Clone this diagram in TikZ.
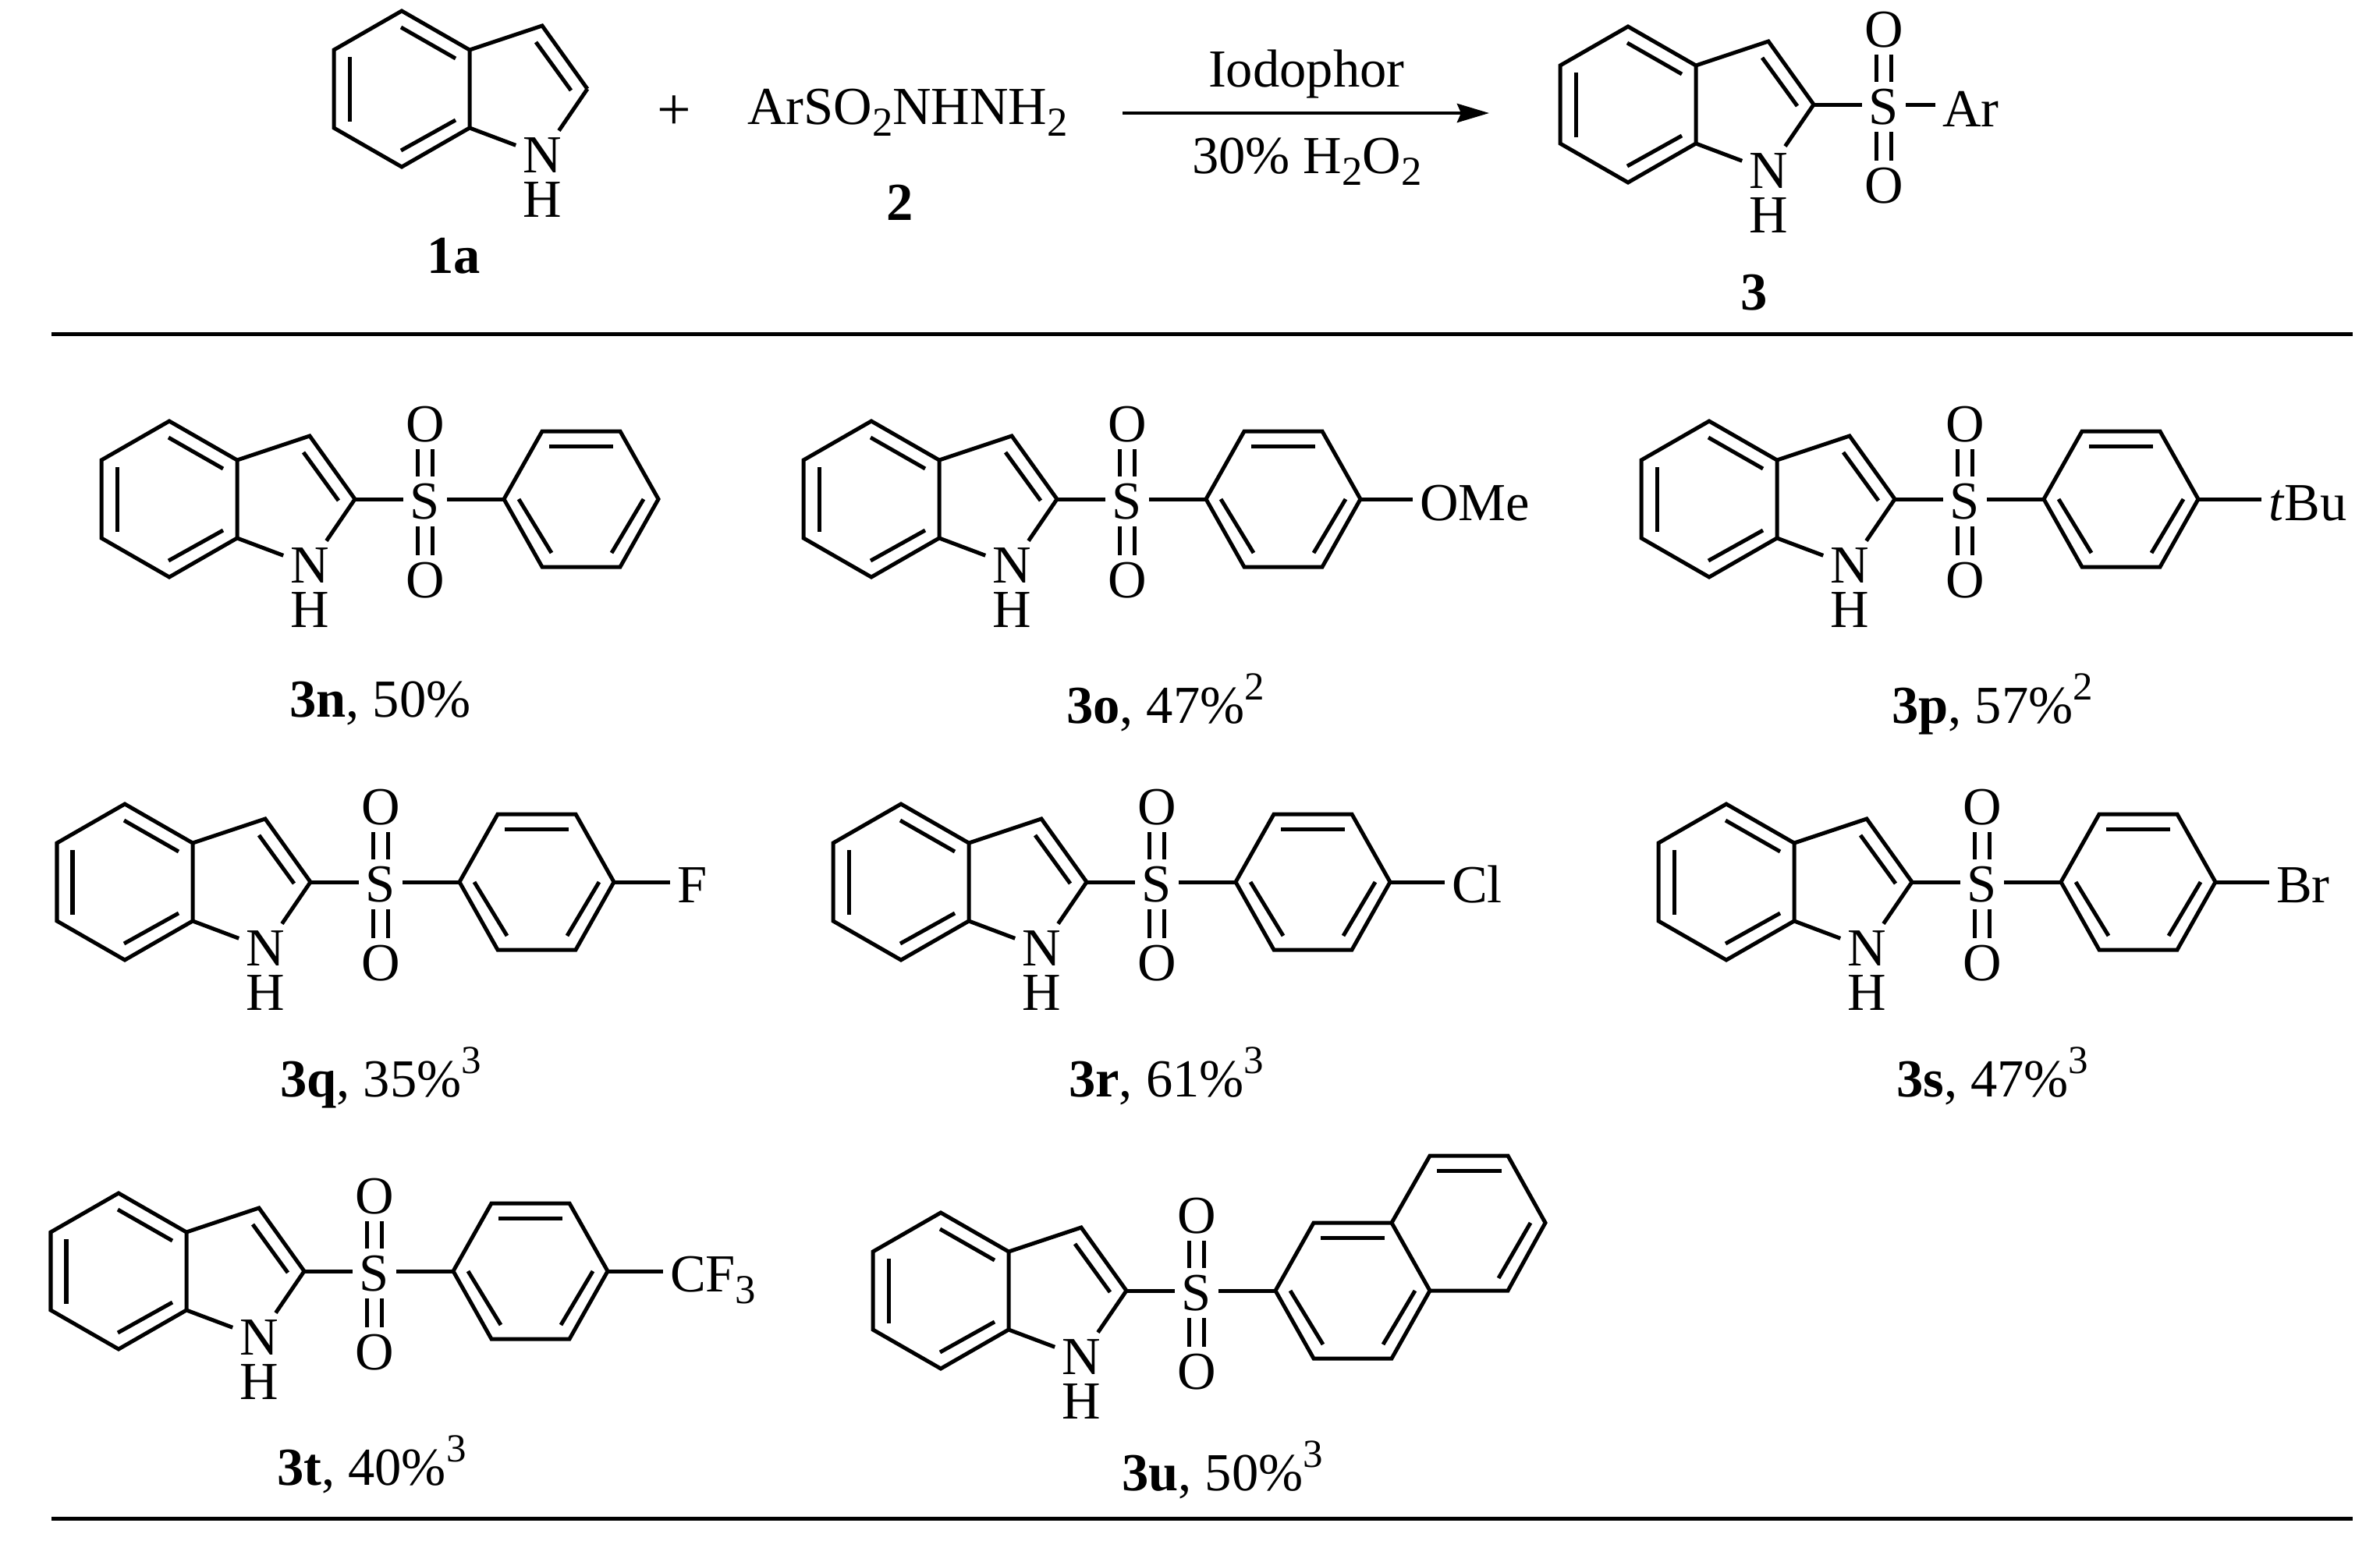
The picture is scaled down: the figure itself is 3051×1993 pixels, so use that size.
\documentclass[tikz,border=0pt]{standalone}
\usepackage{fontspec}
\setmainfont{Liberation Serif}
\usetikzlibrary{arrows.meta}
\tikzset{
  bond/.style={line width=0.05cm},
  atom/.style={inner sep=0pt,outer sep=0.09cm},
  txt/.style={inner sep=0pt,outer sep=0pt,anchor=base west},
  tablerule/.style={line width=0.05cm},
  rxnarrow/.style={line width=0.045cm,-{Stealth[length=0.41cm,width=0.24cm,inset=0.05cm]}}
}
\newcommand{\lowidx}[1]{\raisebox{-4.5pt}{\fontsize{15}{15}\selectfont #1}}
\newcommand{\upidx}[1]{\raisebox{8.5pt}{\fontsize{14.5}{15}\selectfont #1}}
% anillo de indol: nombre, x, y
\newcommand{\indole}[3]{
  \begin{scope}[shift={(#2,#3)}]
    \coordinate (#1cb) at (87,50);
    \coordinate (#1cc) at (238,0);
    \draw[bond] (0,-100) -- (87,-50) -- (87,50) -- (0,100) -- (-87,50) -- (-87,-50) -- cycle;
    \draw[bond] (87,-50) -- (180,-81) -- (238,0);
    \draw[bond] (-67,-41) -- (-67,42);
    \draw[bond] (-1,-79) -- (69,-39);
    \draw[bond] (-1,79) -- (69,40);
    \draw[bond] (172,-60) -- (217,2);
    \node[atom] (#1N) at (180,85) {N};
    \node[atom] (#1H) at (180,142) {H};
    \draw[bond] (#1cb) -- (#1N) -- (#1cc);
  \end{scope}
}
% grupo SO2 sobre el C2
\newcommand{\sulfonyl}[3]{
  \begin{scope}[shift={(#2,#3)}]
    \node[atom] (#1S) at (328,3) {S};
    \node[atom] (#1Ot) at (328,-96) {O};
    \node[atom] (#1Ob) at (328,104) {O};
    \draw[bond] (#1cc) -- (#1cc -| #1S.west);
    \foreach \dx in {-0.095,0.095} {
      \draw[bond] ([xshift=\dx cm]#1S.north) -- ([xshift=\dx cm]#1Ot.south);
      \draw[bond] ([xshift=\dx cm]#1S.south) -- ([xshift=\dx cm]#1Ob.north);
    }
  \end{scope}
}
% fenilo unido al S
\newcommand{\phring}[3]{
  \begin{scope}[shift={(#2+528,#3)}]
    \coordinate (#1ipso) at (-99,0);
    \coordinate (#1para) at (99,0);
    \draw[bond] (#1ipso) -- (-50,-87) -- (50,-87) -- (#1para) -- (50,87) -- (-50,87) -- cycle;
    \draw[bond] (-41,-68) -- (41,-68);
    \draw[bond] (-80,0) -- (-38,69);
    \draw[bond] (80,0) -- (39,69);
    \draw[bond] (#1S.east |- #1ipso) -- (#1ipso);
  \end{scope}
}
\newcommand{\sulfone}[3]{\indole{#1}{#2}{#3}\sulfonyl{#1}{#2}{#3}\phring{#1}{#2}{#3}}
\begin{document}
\begin{tikzpicture}[x=0.01cm,y=-0.01cm,every node/.style={font=\fontsize{19.5}{23}\selectfont}]
  \useasboundingbox (0,0) rectangle (3051,1993);
  % Reaccion
  \indole{a}{515}{114}
  \node[txt] (alab) at (547,350) {\textbf{1a}};
  \node[txt,anchor=base,font=\fontsize{22}{23}\selectfont] (plus) at (864,166) {+};
  \node[txt] (reag) at (958,159) {ArSO\lowidx{2}NHNH\lowidx{2}};
  \node[txt,anchor=base] (reaglab) at (1154,282) {\textbf{2}};
  \coordinate (arrowL) at (1439,145);
  \coordinate (arrowR) at (1909,145);
  \draw[rxnarrow] (arrowL) -- (arrowR);
  \node[txt] (cond) at (1549,111) {Iodophor};
  \node[txt] (oxid) at (1528,222) {30\% H\lowidx{2}O\lowidx{2}};
  \indole{p}{2087}{134}
  \sulfonyl{p}{2087}{134}
  \node[atom,anchor=base west] (pAr) at (2481,162) {Ar};
  \draw[bond] (pS.east |- pcc) -- (pAr.west |- pcc);
  \node[txt,anchor=base] (plab) at (2249,397) {\textbf{3}};
  % Lineas de la tabla
  \coordinate (ruleAL) at (66,428);
  \coordinate (ruleAR) at (3016,428);
  \coordinate (ruleBL) at (66,1947);
  \coordinate (ruleBR) at (3016,1947);
  \draw[tablerule] (ruleAL) -- (ruleAR);
  \draw[tablerule] (ruleBL) -- (ruleBR);
  % Primera fila
  \sulfone{n}{217}{640}
  \node[txt] (nlab) at (371,919) {\textbf{3n}, 50\%};
  \sulfone{o}{1117}{640}
  \node[atom,anchor=base west] (oX) at (1811,667) {OMe};
  \draw[bond] (opara) -- (opara -| oX.west);
  \node[txt] (olab) at (1367,927) {\textbf{3o}, 47\%\upidx{2}};
  \sulfone{r}{2191}{640}
  \node[atom,anchor=base west] (rX) at (2899,667) {\textit{t}Bu};
  \draw[bond] (rpara) -- (rpara -| rX.west);
  \node[txt] (rlab) at (2425,927) {\textbf{3p}, 57\%\upidx{2}};
  % Segunda fila
  \sulfone{q}{160}{1131}
  \node[atom,anchor=base west] (qX) at (859,1157) {F};
  \draw[bond] (qpara) -- (qpara -| qX.west);
  \node[txt] (qlab) at (359,1406) {\textbf{3q}, 35\%\upidx{3}};
  \sulfone{s}{1155}{1131}
  \node[atom,anchor=base west] (sX) at (1852,1157) {Cl};
  \draw[bond] (spara) -- (spara -| sX.west);
  \node[txt] (slab) at (1370,1406) {\textbf{3r}, 61\%\upidx{3}};
  \sulfone{b}{2213}{1131}
  \node[atom,anchor=base west] (bX) at (2909,1157) {Br};
  \draw[bond] (bpara) -- (bpara -| bX.west);
  \node[txt] (blab) at (2431,1406) {\textbf{3s}, 47\%\upidx{3}};
  % Tercera fila
  \sulfone{t}{152}{1630}
  \node[atom,anchor=base west] (tX) at (850,1656) {CF\lowidx{3}};
  \draw[bond] (tpara) -- (tpara -| tX.west);
  \node[txt] (tlab) at (355,1904) {\textbf{3t}, 40\%\upidx{3}};
  \sulfone{u}{1206}{1655}
  \draw[bond] (1784,1568) -- (1833,1482) -- (1933,1482) -- (1981,1568) -- (1933,1655) -- (1833,1655);
  \draw[bond] (1842,1501) -- (1925,1501);
  \draw[bond] (1962,1568) -- (1921,1639);
  \node[txt] (ulab) at (1438,1911) {\textbf{3u}, 50\%\upidx{3}};
\end{tikzpicture}
\end{document}
